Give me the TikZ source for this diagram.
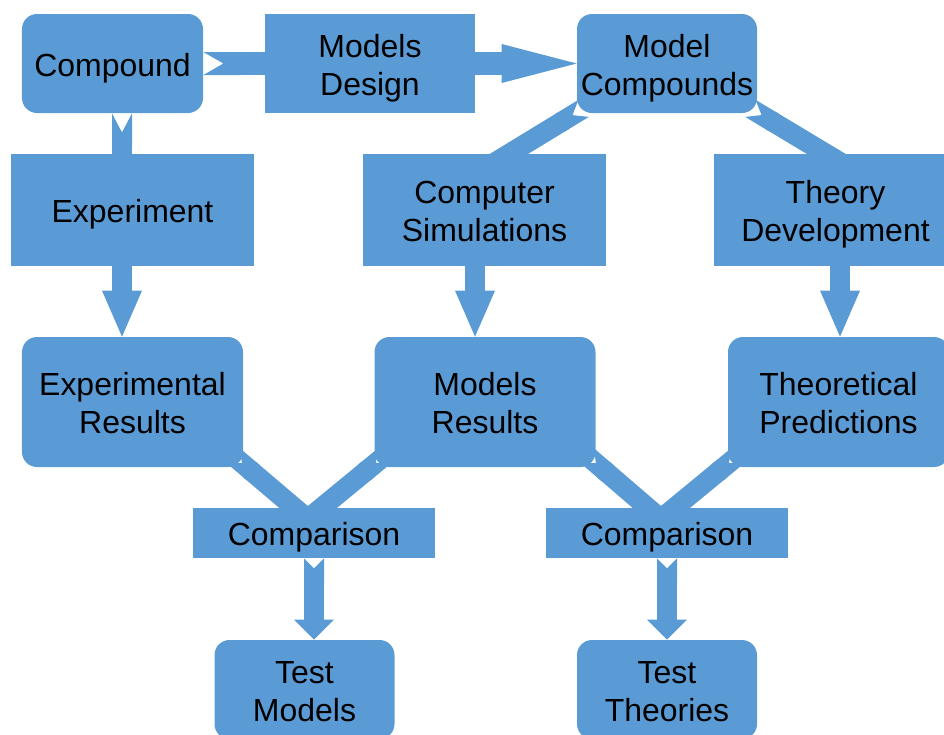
\documentclass[tikz,border=0pt]{standalone}
\usepackage{fontspec}
\setmainfont{Liberation Sans}
\usepackage{tikz}
\usetikzlibrary{arrows.meta,backgrounds}
\definecolor{boxblue}{RGB}{91,155,213}
\newcommand{\twoline}[2]{\rule{0pt}{18.4pt}#1\\#2\rule[-4pt]{0pt}{0pt}}

\begin{document}
\begin{tikzpicture}[x=0.2mm,y=-0.2mm,
  box/.style={fill=boxblue,rounded corners=3mm,minimum width=36mm,minimum height=19.8mm,align=center,inner sep=0pt,font=\fontsize{18.2}{21.5}\selectfont,
    execute at begin node={\rule{0pt}{18.4pt}},execute at end node={\rule[-4pt]{0pt}{0pt}}},
  tag/.style={box,sharp corners,minimum width=48.6mm,minimum height=22.4mm},
  flow/.style={draw=boxblue,line width=4mm},
  notch/.style={{Triangle Cap[reversed,length=#1]}-},
  bighead/.style={{Triangle Cap[reversed,length=#1]}-{Triangle[width=8mm,length=9.2mm,line width=0pt]}},
  smallhead/.style={{Triangle Cap[reversed,length=#1]}-{Triangle[width=8mm,length=4mm,line width=0pt]}}]
\useasboundingbox (0,0) rectangle (944,734);
\node[box,minimum width=36.2mm] (cmp) at (112.5,63.5) {Compound};
\node[tag,minimum width=42mm,minimum height=19.8mm] (des) at (370,63.5) {\twoline{Models}{Design}};
\node[box] (mod) at (667,63.5) {\twoline{Model}{Compounds}};
\node[tag] (exp) at (132.5,210) {Experiment};
\node[tag] (sim) at (484.5,210) {\twoline{Computer}{Simulations}};
\node[tag] (thy) at (835.5,210) {\twoline{Theory}{Development}};
\node[box,minimum width=44.2mm,minimum height=26mm] (er) at (132.5,402) {\twoline{Experimental}{Results}};
\node[box,minimum width=44.2mm,minimum height=26mm] (mr) at (485,402) {\twoline{Models}{Results}};
\node[box,minimum width=44.2mm,minimum height=26mm] (tp) at (838.5,402) {\twoline{Theoretical}{Predictions}};
\node[tag,minimum width=48.4mm,minimum height=10mm] (cl) at (314,533) {Comparison};
\node[tag,minimum width=48.4mm,minimum height=10mm] (cr) at (667,533) {Comparison};
\node[box] (tm) at (304.5,689.5) {\twoline{Test}{Models}};
\node[box] (tt) at (667,689.5) {\twoline{Test}{Theories}};
\begin{scope}[on background layer]
\draw[flow,line width=4.6mm,{Triangle Cap[reversed,length=4mm]}-{Triangle[width=7.8mm,length=15mm,line width=0pt]}] (cmp.east) -- (mod.west);
\draw[flow,bighead=3.8mm] ([xshift=1.9mm]cmp.south) -- ([xshift=1.9mm]cmp.south |- er.north);
\draw[flow,notch=2.6mm] ([shift={(7,-5)}]mod.south west) -- ([shift={(-26.5,-25)}]sim.center);
\draw[flow,notch=2.6mm] ([shift={(-7,-5)}]mod.south east) -- ([shift={(42.5,-25)}]thy.center);
\draw[flow,bighead=1mm] ([xshift=-1.9mm]sim.center) -- ([xshift=-1.9mm]sim.center |- mr.north);
\draw[flow,bighead=1mm] ([xshift=0.9mm]thy.center) -- ([xshift=0.9mm]thy.center |- tp.north);
\draw[flow,notch=2.4mm] ([shift={(-10.5,-12)}]er.south east) -- ([shift={(9,-1)}]cl.center);
\draw[flow,notch=2.4mm] ([shift={(11,-12)}]mr.south west) -- ([shift={(-22,-1)}]cl.center);
\draw[flow,notch=2.4mm] ([shift={(-9,-12)}]mr.south east) -- ([shift={(9,-1)}]cr.center);
\draw[flow,notch=2.4mm] ([shift={(10.5,-12)}]tp.south west) -- ([shift={(-22,-1)}]cr.center);
\draw[flow,smallhead=2mm] (cl.south) -- (cl.south |- tm.north);
\draw[flow,smallhead=2mm] (cr.south) -- (cr.south |- tt.north);
\end{scope}
\end{tikzpicture}
\end{document}
